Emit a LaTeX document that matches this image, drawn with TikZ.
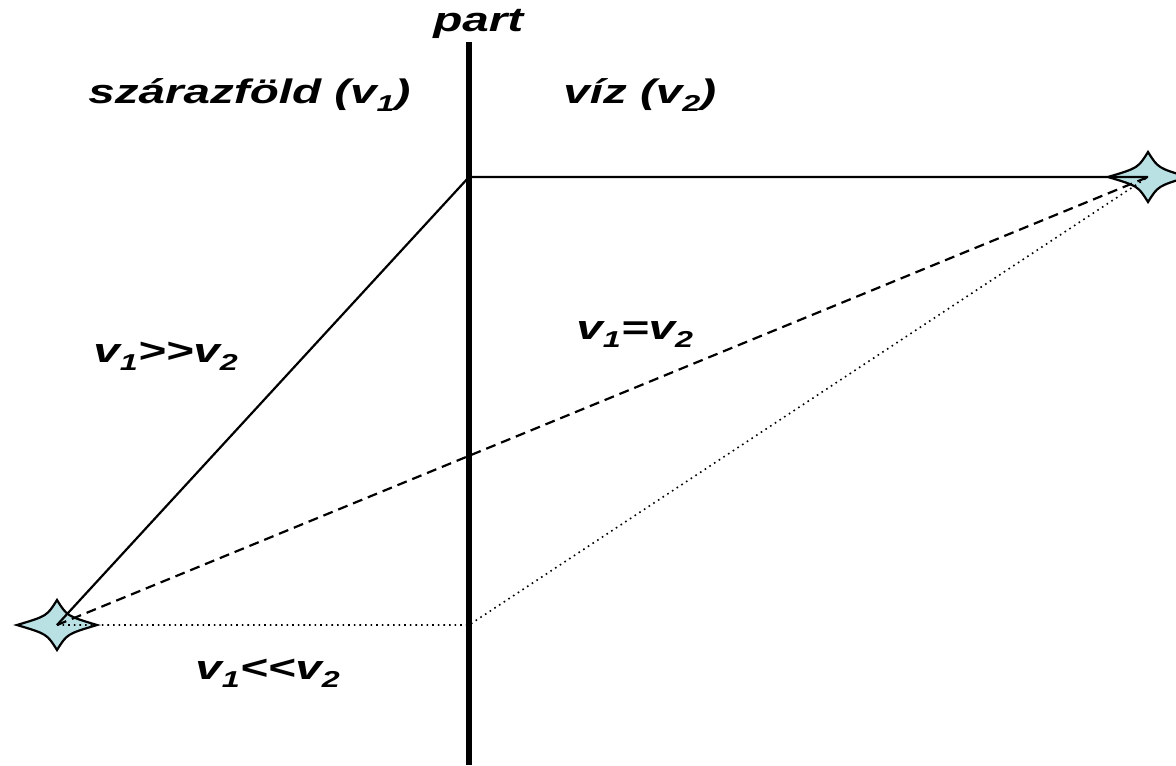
\documentclass[tikz,border=0pt]{standalone}
\usepackage{fontspec}
\setmainfont{Liberation Sans}
\newfontfamily\widefont{Liberation Sans}[FakeStretch=1.4,Ligatures=ResetAll]
\newcommand\lowidx[1]{\raisebox{-4pt}{\fontsize{11.5}{12}\selectfont #1}}
\definecolor{starblue}{RGB}{185,225,228}
\tikzset{
  lbl/.style={anchor=base west, inner sep=0pt, font=\widefont\fontsize{17}{20}\selectfont\bfseries\itshape},
  thin line/.style={line width=1.1pt},
  sparkle/.pic={
    \filldraw[fill=starblue, draw=black, line width=1.1pt]
      (40,0) .. controls (10,-9) .. (0,-25) .. controls (-10,-9) .. (-40,0)
      .. controls (-10,9) .. (0,25) .. controls (10,9) .. cycle;
  }
}
\begin{document}
\begin{tikzpicture}[x=0.5pt,y=-0.5pt]
\useasboundingbox (0,0) rectangle (1176,765);
\coordinate (L) at (57,625);
\coordinate (R) at (1148,177);
\coordinate (C) at (469,177);
\coordinate (B) at (469,625);
\coordinate (top) at (469,42);
\coordinate (bot) at (469,765);
\pic at (L) {sparkle};
\pic at (R) {sparkle};
\draw[line width=3pt] (top) -- (bot);
\draw[thin line] (L) -- (C) -- (R);
\draw[thin line, dash pattern=on 5pt off 3pt] (L) -- (R);
\draw[line width=0.8pt, dotted] (L) -- (B) -- (R);
\node[lbl] (part) at (433,32) {part};
\node[lbl] (land) at (88,104) {szárazföld (v\lowidx{1})};
\node[lbl] (water) at (563,104) {víz (v\lowidx{2})};
\node[lbl] (gg) at (93,362) {v\lowidx{1}>\kern0pt>v\lowidx{2}};
\node[lbl] (eq) at (576,339) {v\lowidx{1}=v\lowidx{2}};
\node[lbl] (ll) at (195,679) {v\lowidx{1}<\kern0pt<v\lowidx{2}};
\end{tikzpicture}
\end{document}
